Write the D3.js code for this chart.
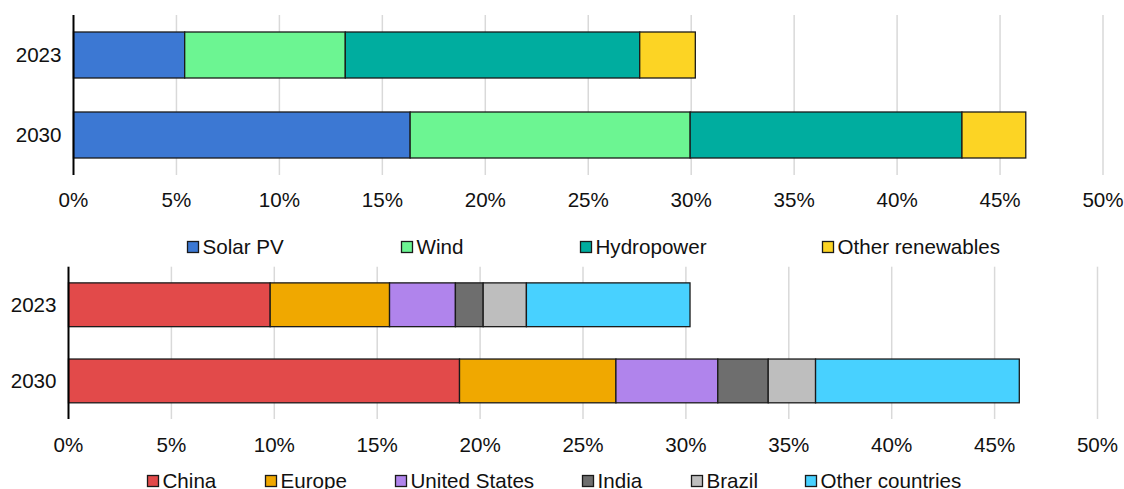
<!DOCTYPE html>
<html>
<head>
<meta charset="utf-8">
<script src="https://cdn.jsdelivr.net/npm/d3@7/dist/d3.min.js"></script>
<style>
  html, body { margin: 0; padding: 0; background: #fff; }
  svg { display: block; font-family: "Liberation Sans", Arial, sans-serif; }
</style>
</head>
<body>
<svg id="chart" width="1124" height="489"></svg>
<script>
// ---- Data ----
const years = ["2023", "2030"];
const ticks = [0, 5, 10, 15, 20, 25, 30, 35, 40, 45, 50];
const tickLabels = ["0%", "5%", "10%", "15%", "20%", "25%", "30%", "35%", "40%", "45%", "50%"];

const techSeries = ["Solar PV", "Wind", "Hydropower", "Other renewables"];
const solarPV = [5.4, 16.35];
const wind = [7.8, 13.6];
const hydropower = [14.3, 13.2];
const otherRenewables = [2.7, 3.1];
const techColors = ["#3C78D3", "#6CF592", "#00AD9F", "#FCD424"];

const regionSeries = ["China", "Europe", "United States", "India", "Brazil", "Other countries"];
const china = [9.8, 19.0];
const europe = [5.8, 7.6];
const unitedStates = [3.2, 4.95];
const india = [1.35, 2.45];
const brazil = [2.1, 2.3];
const otherCountries = [7.95, 9.9];
const regionColors = ["#E24A4A", "#F0A800", "#B084EC", "#6E6E6E", "#BEBEBE", "#48D1FF"];

// ---- Drawing ----
const svg = d3.select("#chart");
const FONT = 20.6;

function drawPanel(cfg) {
  const g = svg.append("g");
  const x = d3.scaleLinear().domain([0, 50]).range([cfg.x0, cfg.x1]);
  const y = d3.scaleBand().domain(years).range([cfg.y0, cfg.y1])
    .paddingInner(0.425).paddingOuter(0.2125);

  // gridlines
  g.selectAll("line.grid").data(ticks.filter(t => t > 0)).enter().append("line")
    .attr("x1", d => x(d)).attr("x2", d => x(d))
    .attr("y1", cfg.y0).attr("y2", cfg.y1)
    .attr("stroke", "#d9d9d9").attr("stroke-width", 1.5);

  // rows table
  const rows = years.map((yr, i) => {
    const r = { year: yr };
    cfg.series.forEach((s, k) => r[s] = cfg.values[k][i]);
    return r;
  });
  const stacked = d3.stack().keys(cfg.series)(rows);
  const color = d3.scaleOrdinal().domain(cfg.series).range(cfg.colors);

  g.selectAll("g.layer").data(stacked).enter().append("g")
    .attr("fill", d => color(d.key))
    .selectAll("rect").data(d => d).enter().append("rect")
    .attr("x", d => x(d[0]))
    .attr("width", d => x(d[1]) - x(d[0]))
    .attr("y", d => y(d.data.year))
    .attr("height", y.bandwidth())
    .attr("stroke", "#1a1a1a").attr("stroke-width", 1.3);

  // y axis line
  g.append("line")
    .attr("x1", x(0)).attr("x2", x(0))
    .attr("y1", cfg.y0).attr("y2", cfg.y1)
    .attr("stroke", "#000").attr("stroke-width", 2);

  // year labels
  g.selectAll("text.yl").data(years).enter().append("text")
    .attr("x", x(0) - 12)
    .attr("y", d => y(d) + y.bandwidth() / 2)
    .attr("dy", "0.35em")
    .attr("text-anchor", "end")
    .attr("font-size", FONT).attr("fill", "#111")
    .text(d => d);

  // tick labels
  g.selectAll("text.tl").data(ticks).enter().append("text")
    .attr("x", d => x(d))
    .attr("y", cfg.tickY)
    .attr("dy", "0.35em")
    .attr("text-anchor", "middle")
    .attr("font-size", FONT).attr("fill", "#111")
    .text((d, i) => tickLabels[i]);

  // legend
  const lg = g.selectAll("g.lg").data(cfg.series).enter().append("g")
    .attr("transform", (d, i) => `translate(${cfg.legendX[i]},${cfg.legendY})`);
  lg.append("rect")
    .attr("x", 0.5).attr("y", -5.5).attr("width", 11).attr("height", 11)
    .attr("fill", d => color(d)).attr("stroke", "#1a1a1a").attr("stroke-width", 1.3);
  lg.append("text")
    .attr("x", 15.5).attr("y", 0).attr("dy", "0.35em")
    .attr("font-size", FONT).attr("fill", "#111")
    .text(d => d);
}

drawPanel({
  x0: 73.5, x1: 1103, y0: 15, y1: 175, tickY: 200,
  series: techSeries,
  values: [solarPV, wind, hydropower, otherRenewables],
  colors: techColors,
  legendX: [187, 401, 580, 822],
  legendY: 247
});

drawPanel({
  x0: 68.5, x1: 1097.5, y0: 266.7, y1: 419, tickY: 445,
  series: regionSeries,
  values: [china, europe, unitedStates, india, brazil, otherCountries],
  colors: regionColors,
  legendX: [147, 265, 395, 582, 691, 805],
  legendY: 481
});
</script>
</body>
</html>
